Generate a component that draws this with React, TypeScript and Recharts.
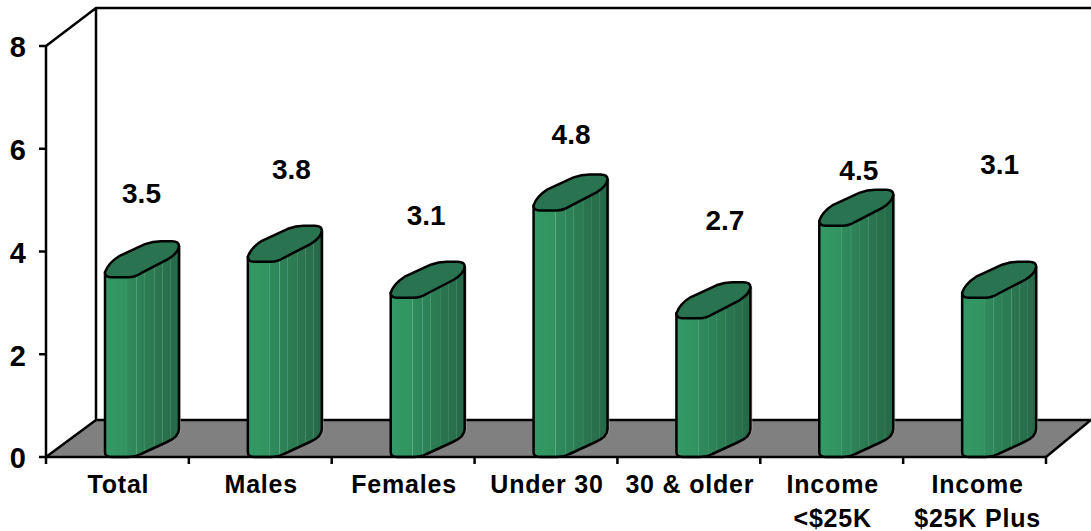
import React from 'react';
import { BarChart, Bar, XAxis, YAxis, LabelList } from 'recharts';

const categories = ['Total', 'Males', 'Females', 'Under 30', '30 & older', 'Income\n<$25K', 'Income\n$25K Plus'];
const values = [3.5, 3.8, 3.1, 4.8, 2.7, 4.5, 3.1];
const yTicks = [0, 2, 4, 6, 8];

// labels float at uneven spots in the original
const labelShiftX = [24, 31, 23, 25, 36, 27, 25];
const labelLift = [84, 93, 83, 76, 98, 56, 134];

const WIDTH = 1091;
const HEIGHT = 531;
const LEFT = 46;
const RIGHT = 1046;
const TOP = 46;
const BOTTOM = 457;
const BACK_X = 96;
const BACK_Y = 420;
const BAND = (RIGHT - LEFT) / categories.length;
const BAR_W = 75;
const BAR_SHIFT = 25;
const LINE = 2.5;
const FONT = '"Liberation Sans", Arial, sans-serif';

const data = categories.map((name, i) => ({ name, value: values[i] }));

// x is already moved to the front left edge of the bar
function Column(props: any) {
  const x = props.x + BAR_SHIFT;
  const t = props.y;
  const b = props.y + props.height;
  const body =
    `M${x} ${t - 5} L${x} ${b - 5} Q${x} ${b} ${x + 6} ${b} L${x + 24} ${b} Q${x + 30} ${b} ${x + 36} ${b - 3} ` +
    `L${x + 62} ${b - 15} Q${x + 74} ${b - 20} ${x + 74} ${b - 28} L${x + 74} ${t - 31} Z`;
  const cap =
    `M${x} ${t - 5} Q${x + 3} ${t - 14} ${x + 14} ${t - 21} L${x + 40} ${t - 33} Q${x + 48} ${t - 36} ${x + 56} ${t - 36} ` +
    `L${x + 67} ${t - 36} Q${x + 74} ${t - 36} ${x + 74} ${t - 31} Q${x + 73} ${t - 24} ${x + 63} ${t - 18} ` +
    `L${x + 36} ${t - 4} Q${x + 30} ${t} ${x + 23} ${t} L${x + 6} ${t} Q${x} ${t} ${x} ${t - 5} Z`;
  return (
    <g>
      <path d={body} fill="#b5b5b5" opacity={0.6} transform="translate(2 0)" />
      <path d={body} fill="url(#columnFill)" stroke="#000" strokeWidth={LINE} strokeLinejoin="round" />
      <path d={cap} fill="#2a7350" stroke="#000" strokeWidth={LINE} strokeLinejoin="round" />
    </g>
  );
}

function CategoryTick(props: any) {
  const { x, y, payload, index } = props;
  const lines = String(payload.value).split('\n');
  const isLast = index === categories.length - 1;
  return (
    <g>
      <line x1={x - BAND / 2} x2={x - BAND / 2} y1={BOTTOM} y2={BOTTOM + 7} stroke="#000" strokeWidth={LINE} />
      {isLast && <line x1={x + BAND / 2} x2={x + BAND / 2} y1={BOTTOM} y2={BOTTOM + 7} stroke="#000" strokeWidth={LINE} />}
      <text textAnchor="middle" fontFamily={FONT} fontWeight="bold" fontSize={25} fill="#000" letterSpacing={0.8}>
        {lines.map((line, i) => (
          <tspan key={i} x={isLast ? x + 3 : x + 1} y={y + 28 + i * 33.5}>
            {line}
          </tspan>
        ))}
      </text>
    </g>
  );
}

function ValueLabel(props: any) {
  const { x, y, width, value, index } = props;
  return (
    <text
      x={x + width / 2 + labelShiftX[index]}
      y={y - labelLift[index] + 10}
      textAnchor="middle"
      fontFamily={FONT}
      fontWeight="bold"
      fontSize={28}
      fill="#000"
    >
      {Number(value).toFixed(1)}
    </text>
  );
}

export default function App() {
  return (
    <div style={{ position: 'absolute', left: 0, top: 0, width: WIDTH, height: HEIGHT, background: '#fff' }}>
      <BarChart width={WIDTH} height={HEIGHT} data={data} margin={{ top: TOP, right: WIDTH - RIGHT, bottom: 0, left: 0 }}>
        <defs>
          <linearGradient id="columnFill" x1="0" y1="0" x2="1" y2="0">
            <stop offset="0" stopColor="#339966" />
            <stop offset="0.29" stopColor="#319360" />
            <stop offset="0.295" stopColor="#5fae88" />
            <stop offset="0.305" stopColor="#2f8a5c" />
            <stop offset="0.42" stopColor="#2e875a" />
            <stop offset="0.427" stopColor="#5da583" />
            <stop offset="0.437" stopColor="#2e8358" />
            <stop offset="0.53" stopColor="#2d8056" />
            <stop offset="0.537" stopColor="#4f9577" />
            <stop offset="0.547" stopColor="#2c7d54" />
            <stop offset="0.66" stopColor="#2b7a52" />
            <stop offset="0.667" stopColor="#4f9174" />
            <stop offset="0.677" stopColor="#2a7650" />
            <stop offset="0.77" stopColor="#29734e" />
            <stop offset="0.777" stopColor="#4a8a6e" />
            <stop offset="0.787" stopColor="#29714d" />
            <stop offset="0.88" stopColor="#286f4c" />
            <stop offset="0.887" stopColor="#47836a" />
            <stop offset="0.897" stopColor="#276c4a" />
            <stop offset="1" stopColor="#256848" />
          </linearGradient>
        </defs>
        {/* floor and back walls */}
        <polygon
          points={`${LEFT},${BOTTOM} ${BACK_X},${BACK_Y} ${WIDTH},${BACK_Y} ${RIGHT},${BOTTOM}`}
          fill="#808080"
        />
        <path
          d={`M${LEFT} ${BOTTOM} L${BACK_X} ${BACK_Y} L${WIDTH} ${BACK_Y} M${RIGHT} ${BOTTOM} L${WIDTH} ${BACK_Y} M${LEFT} ${TOP} L${BACK_X} 8 L${WIDTH} 8 M${BACK_X} 8 L${BACK_X} ${BACK_Y}`}
          fill="none"
          stroke="#000"
          strokeWidth={LINE}
        />
        <XAxis
          dataKey="name"
          height={HEIGHT - BOTTOM}
          interval={0}
          tickLine={false}
          axisLine={{ stroke: '#000', strokeWidth: LINE }}
          tick={<CategoryTick />}
        />
        <YAxis
          width={LEFT}
          domain={[0, 8]}
          ticks={yTicks}
          interval={0}
          tickSize={7}
          tickMargin={13}
          axisLine={{ stroke: '#000', strokeWidth: LINE }}
          tickLine={{ stroke: '#000', strokeWidth: LINE }}
          tick={{ fontFamily: FONT, fontWeight: 'bold', fontSize: 29, fill: '#000', dy: 1 }}
        />
        <Bar dataKey="value" barSize={BAR_W} shape={<Column />} isAnimationActive={false}>
          <LabelList dataKey="value" content={<ValueLabel />} />
        </Bar>
      </BarChart>
    </div>
  );
}
